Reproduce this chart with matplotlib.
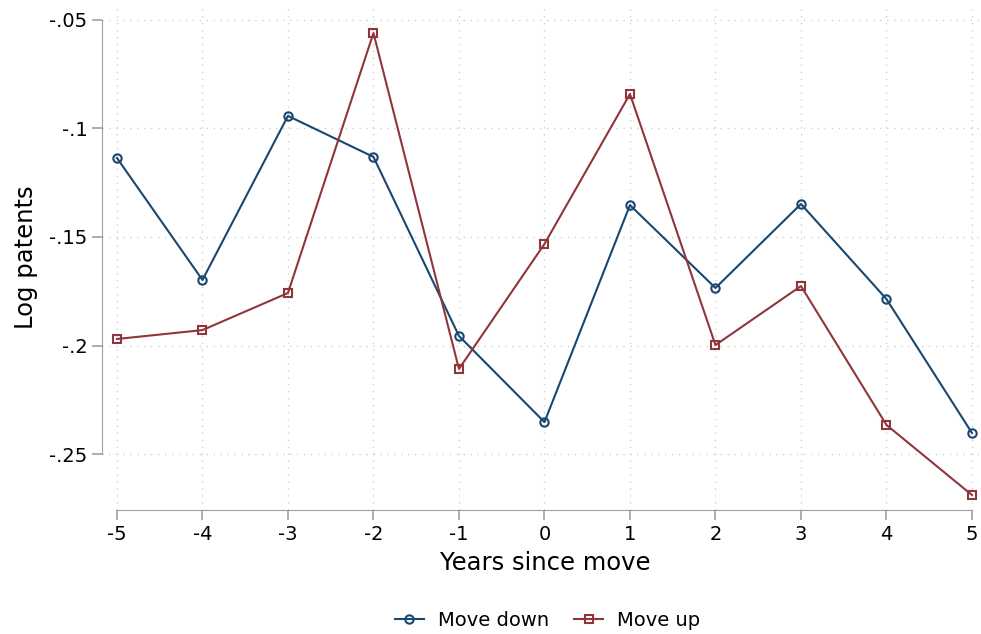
import matplotlib
matplotlib.use("Agg")
import matplotlib.pyplot as plt
import numpy as np

years = [-5, -4, -3, -2, -1, 0, 1, 2, 3, 4, 5]
move_down = [-0.1136, -0.1698, -0.0942, -0.1131, -0.1956, -0.2353,
             -0.1353, -0.1735, -0.1348, -0.1786, -0.2403]
move_up = [-0.1970, -0.1929, -0.1758, -0.0560, -0.2108, -0.1532,
           -0.0841, -0.1998, -0.1726, -0.2366, -0.2689]
y_ticks = [-0.05, -0.1, -0.15, -0.2, -0.25]
y_labels = ["-.05", "-.1", "-.15", "-.2", "-.25"]

blue = "#1a476f"
red = "#90353b"

fig = plt.figure(figsize=(9.81, 6.34), dpi=100)
ax = fig.add_axes([102 / 981, 1 - 510 / 634, (980 - 102) / 981, (510 - 5) / 634])

ax.plot(years, move_down, color=blue, lw=1.5, marker="o", ms=6, mfc="none",
        mew=1.5, label="Move down")
ax.plot(years, move_up, color=red, lw=1.5, marker="s", ms=6, mfc="none",
        mew=1.5, label="Move up")

ax.set_xlim(-5.175, 5.094)
ax.set_ylim(-0.2758, -0.0431)
ax.set_xticks(years)
ax.set_xticklabels([str(y) for y in years])
ax.set_yticks(y_ticks)
ax.set_yticklabels(y_labels)

ax.grid(True, color="#d0d0d0", linestyle=(0, (1, 4)), lw=1)
for s in ["top", "right"]:
    ax.spines[s].set_visible(False)
ax.spines["left"].set_color("#a0a0a0")
ax.spines["bottom"].set_color("#a0a0a0")
ax.spines["left"].set_bounds(-0.25, -0.05)
ax.spines["bottom"].set_bounds(-5, 5)
ax.tick_params(colors="#a0a0a0", labelcolor="black", labelsize=14, length=7, width=1.2)

ax.set_xlabel("Years since move", fontsize=17.5)
ax.xaxis.set_label_coords(0.5 + 4 / 878, -0.082)
ax.set_ylabel("Log patents", fontsize=17.5, labelpad=8)

leg = fig.legend(loc="center", bbox_to_anchor=(0.558, 1 - 620 / 634), ncol=2,
                 frameon=False, fontsize=14, handlelength=1.5, handletextpad=0.7,
                 columnspacing=1.3)

fig.savefig("out.png", dpi=100)
